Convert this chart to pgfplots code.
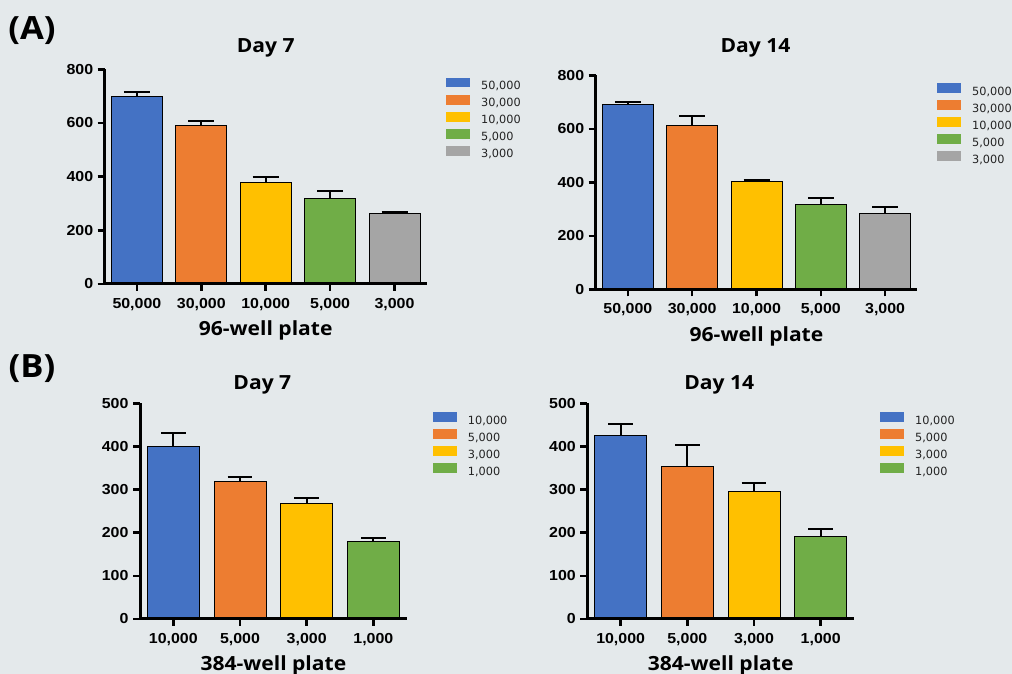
\documentclass[border=0pt]{standalone}
\usepackage{pgfplots}
\pgfplotsset{compat=1.18}
\usepackage{fontspec}
\setmainfont{Open Sans}[FakeStretch=1.08]
\newfontfamily\arial{Liberation Sans}[FakeStretch=1.1]
\newfontfamily\legfont{DejaVu Sans}
\definecolor{bg}{RGB}{228,233,235}
\definecolor{cblue}{RGB}{68,114,196}
\definecolor{corange}{RGB}{237,125,49}
\definecolor{cyellow}{RGB}{255,192,0}
\definecolor{cgreen}{RGB}{112,173,71}
\definecolor{cgray}{RGB}{165,165,165}
\definecolor{legtext}{RGB}{35,35,35}
\pgfplotsset{
  panel/.style={
    scale only axis, axis on top,
    axis x line*=bottom, axis y line*=left,
    axis line style={-, line width=3pt, black},
    ybar, bar width=51pt,
    ymin=0,
    tick align=outside, major tick length=7pt,
    tick style={line width=2.5pt, black},
    /pgf/number format/assume math mode=true,
    tick label style={font=\arial\bfseries\fontsize{14.5}{14.5}\selectfont},
    yticklabel style={xshift=-1pt},
    xticklabel style={yshift=-4pt},
    title style={font=\bfseries\fontsize{19.5}{20}\selectfont, at={(axis description cs:0.5,1)}, anchor=center},
    xlabel style={font=\bfseries\fontsize{19.5}{20}\selectfont, at={(axis description cs:0.5,0)}, anchor=center, yshift=-46pt},
    legend style={draw=none, fill=none, at={(axis description cs:1,1)}, anchor=north west,
      font=\legfont\fontsize{11.3}{11.3}\selectfont\color{legtext}, row sep=1.8pt, inner sep=0pt,
      /tikz/every odd column/.append style={column sep=9pt}},
    legend cell align=left,
    legend image code/.code={\fill[#1, draw=none] (0pt,-1.2pt) rectangle (24pt,8.3pt);},
    clip=false,
  },
  bb/.style={fill=#1, draw=black, line width=0.8pt, bar shift=0pt,
    error bars/.cd, y dir=plus, y explicit,
    error bar style={line width=2pt, black},
    error mark options={rotate=90, line width=2pt, mark size=13pt, black}},
  bc/.style={fill=#1, draw=black, line width=0.8pt, bar shift=0pt,
    error bars/.cd, y dir=plus, y explicit,
    error bar style={line width=2pt, black},
    error mark options={rotate=90, line width=2pt, mark size=12.3pt, black}},
}
\begin{document}
\begin{tikzpicture}[x=1pt,y=1pt]
\fill[bg] (0,0) rectangle (1012,674);
\path[use as bounding box] (0,0) rectangle (1012,674);
\node[font=\bfseries\fontsize{32}{32}\selectfont, anchor=center] at (32,643) {(A)};
\node[font=\bfseries\fontsize{32}{32}\selectfont, anchor=center] at (32,305) {(B)};

% A Day 7
\begin{axis}[panel, at={(104.7pt,390pt)}, anchor=south west, width=322pt, height=214.7pt,
  xmin=-0.5, xmax=4.5, ymax=800, ytick={0,200,400,600,800},
  xtick={0,1,2,3,4}, xticklabels={{50,000},{30,000},{10,000},{5,000},{3,000}},
  title={Day 7}, title style={yshift=15pt}, xlabel={96-well plate},
  legend style={xshift=19.3pt, yshift=-8.5pt}]
\addplot[bb=cblue] coordinates {(0,700) +- (0,17)};
\addplot[bb=corange] coordinates {(1,592) +- (0,17)};
\addplot[bb=cyellow] coordinates {(2,378) +- (0,20)};
\addplot[bb=cgreen] coordinates {(3,318) +- (0,27)};
\addplot[bb=cgray] coordinates {(4,264) +- (0,6)};
\addlegendentry{50,000}
\addlegendentry{30,000}
\addlegendentry{10,000}
\addlegendentry{5,000}
\addlegendentry{3,000}
\end{axis}

% A Day 14
\begin{axis}[panel, at={(595.7pt,384.7pt)}, anchor=south west, width=321.6pt, height=214pt,
  xmin=-0.5, xmax=4.5, ymax=800, ytick={0,200,400,600,800},
  xtick={0,1,2,3,4}, xticklabels={{50,000},{30,000},{10,000},{5,000},{3,000}},
  title={Day 14}, title style={yshift=21pt, xshift=-1pt}, xlabel={96-well plate}, xlabel style={yshift=-1pt},
  legend style={xshift=19.7pt, yshift=-7.8pt}]
\addplot[bb=cblue] coordinates {(0,690) +- (0,11)};
\addplot[bb=corange] coordinates {(1,613) +- (0,34)};
\addplot[bb=cyellow] coordinates {(2,402) +- (0,7)};
\addplot[bb=cgreen] coordinates {(3,316) +- (0,24)};
\addplot[bb=cgray] coordinates {(4,284) +- (0,25)};
\addlegendentry{50,000}
\addlegendentry{30,000}
\addlegendentry{10,000}
\addlegendentry{5,000}
\addlegendentry{3,000}
\end{axis}

% B Day 7
\begin{axis}[panel, at={(140pt,55pt)}, anchor=south west, width=266.7pt, height=215.7pt,
  bar width=52pt,
  xmin=-0.5, xmax=3.5, ymax=500, ytick={0,100,200,300,400,500},
  xtick={0,1,2,3}, xticklabels={{10,000},{5,000},{3,000},{1,000}},
  title={Day 7}, title style={yshift=12pt, xshift=-11pt}, xlabel={384-well plate},
  legend style={xshift=26pt, yshift=-8.8pt}]
\addplot[bc=cblue] coordinates {(0,400) +- (0,30)};
\addplot[bc=corange] coordinates {(1,319) +- (0,9)};
\addplot[bc=cyellow] coordinates {(2,267) +- (0,14)};
\addplot[bc=cgreen] coordinates {(3,180) +- (0,8)};
\addlegendentry{10,000}
\addlegendentry{5,000}
\addlegendentry{3,000}
\addlegendentry{1,000}
\end{axis}

% B Day 14
\begin{axis}[panel, at={(587.3pt,55pt)}, anchor=south west, width=266.7pt, height=215.7pt,
  bar width=52pt,
  xmin=-0.5, xmax=3.5, ymax=500, ytick={0,100,200,300,400,500},
  xtick={0,1,2,3}, xticklabels={{10,000},{5,000},{3,000},{1,000}},
  title={Day 14}, title style={yshift=12pt, xshift=-1.4pt}, xlabel={384-well plate},
  legend style={xshift=26pt, yshift=-8.8pt}]
\addplot[bc=cblue] coordinates {(0,425) +- (0,26)};
\addplot[bc=corange] coordinates {(1,354) +- (0,49)};
\addplot[bc=cyellow] coordinates {(2,296) +- (0,19)};
\addplot[bc=cgreen] coordinates {(3,192) +- (0,17)};
\addlegendentry{10,000}
\addlegendentry{5,000}
\addlegendentry{3,000}
\addlegendentry{1,000}
\end{axis}
\end{tikzpicture}
\end{document}
